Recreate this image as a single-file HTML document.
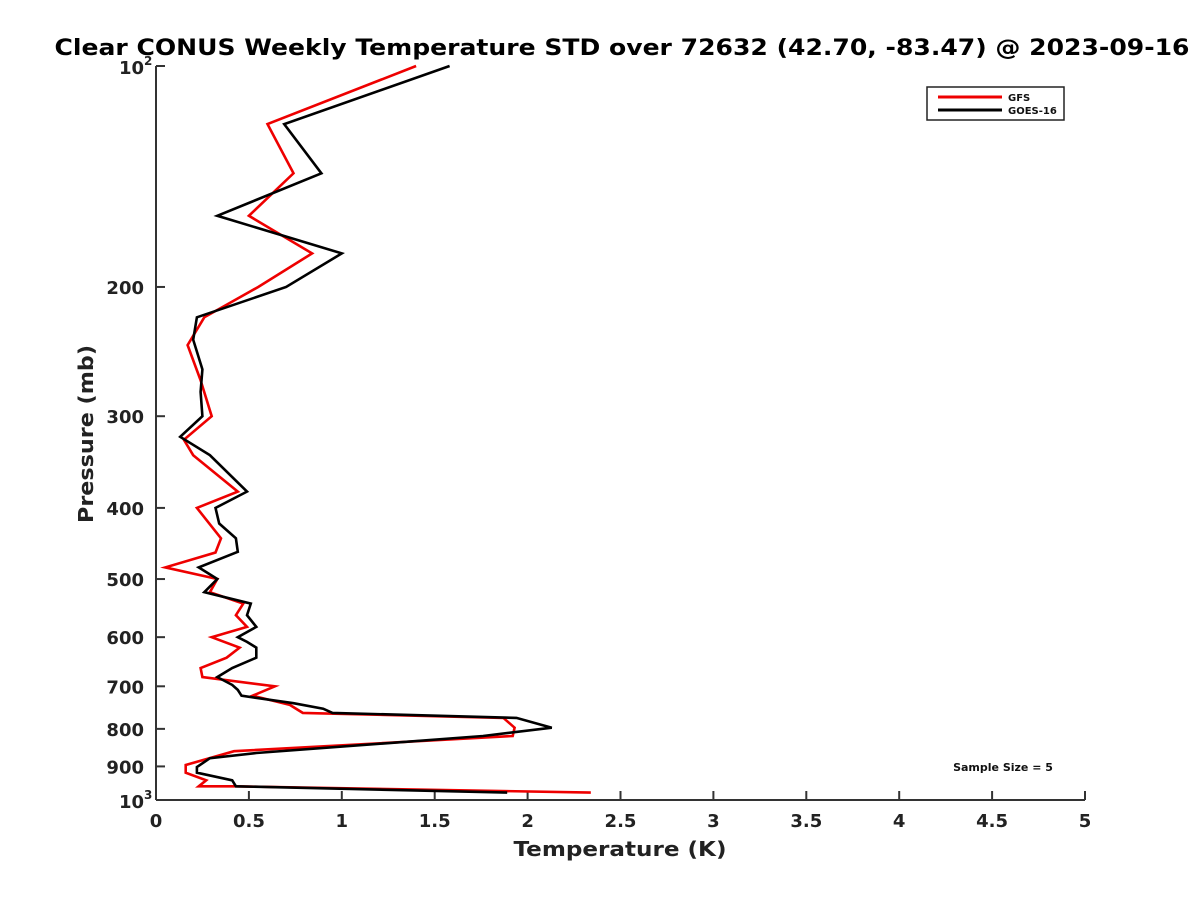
<!DOCTYPE html>
<html><head><meta charset="utf-8"><style>
html,body{margin:0;padding:0;background:#fff;}
svg{display:block;font-family:"DejaVu Sans","Liberation Sans",sans-serif;}
</style></head><body>
<svg id="chart" width="1200" height="900">
<rect width="1200" height="900" fill="#fff"/>
<text x="622" y="55" text-anchor="middle" font-size="22" font-weight="bold" fill="#000" textLength="1135" lengthAdjust="spacingAndGlyphs">Clear CONUS Weekly Temperature STD over 72632 (42.70, -83.47) @ 2023-09-16</text>
<g id="axes"></g>
<g id="series"></g>
<text x="620" y="856" text-anchor="middle" font-size="20" font-weight="bold" fill="#222" textLength="213" lengthAdjust="spacingAndGlyphs">Temperature (K)</text>
<text transform="translate(93,434) rotate(-90)" text-anchor="middle" font-size="20" font-weight="bold" fill="#222" textLength="178" lengthAdjust="spacingAndGlyphs">Pressure (mb)</text>
<g>
<rect x="927" y="87" width="137" height="33" fill="#fff" stroke="#222" stroke-width="1.5"/>
<line x1="938" y1="97" x2="1002" y2="97" stroke="#e00" stroke-width="3"/>
<text x="1008" y="101" font-size="10" font-weight="bold" fill="#111">GFS</text>
<line x1="938" y1="110" x2="1002" y2="110" stroke="#000" stroke-width="3"/>
<text x="1008" y="114" font-size="10" font-weight="bold" fill="#111">GOES-16</text>
</g>
<text x="1003" y="771" text-anchor="middle" font-size="11" font-weight="bold" fill="#111">Sample Size = 5</text>
</svg>
<script>
const xTicks = [0,0.5,1,1.5,2,2.5,3,3.5,4,4.5,5];
const xTickLabels = ["0","0.5","1","1.5","2","2.5","3","3.5","4","4.5","5"];
const yTicks = [200,300,400,500,600,700,800,900];
const gfsP = [100,120,140,160,180,200,220,240,268,300,323,339,380,400,440,460,482,500,521,540,560,581,600,620,640,661,680,700,721,742,761,773,797,818,858,896,918,940,958,958,977];
const gfsT = [1.40,0.60,0.74,0.50,0.84,0.55,0.26,0.17,0.24,0.30,0.15,0.20,0.44,0.22,0.35,0.32,0.05,0.33,0.29,0.47,0.43,0.49,0.30,0.45,0.38,0.24,0.25,0.64,0.52,0.72,0.79,1.87,1.93,1.92,0.42,0.16,0.16,0.27,0.23,0.43,2.34];
const goesP = [100,120,140,160,180,200,220,236,259,278,300,320,339,380,400,420,440,459,482,500,521,540,560,581,600,609,620,640,661,680,697,708,721,738,751,761,773,797,818,863,877,902,918,940,958,977];
const goesT = [1.58,0.69,0.89,0.33,1.00,0.70,0.22,0.20,0.25,0.24,0.25,0.13,0.29,0.49,0.32,0.34,0.43,0.44,0.23,0.33,0.26,0.51,0.49,0.54,0.44,0.49,0.54,0.54,0.41,0.33,0.41,0.44,0.46,0.74,0.90,0.95,1.94,2.13,1.76,0.54,0.29,0.22,0.22,0.41,0.43,1.89];

const X0=156, X1=1085, Y0=66, Y1=800;
const xs = t => X0 + (t/5)*(X1-X0);
const ys = p => Y0 + Math.log10(p/100)*(Y1-Y0);
const NS="http://www.w3.org/2000/svg";
const axes=document.getElementById('axes');
function mk(tag,attrs,parent){const e=document.createElementNS(NS,tag);for(const k in attrs)e.setAttribute(k,attrs[k]);parent.appendChild(e);return e;}
let l=mk('line',{x1:X0,y1:Y0,x2:X0,y2:Y1,stroke:'#333','stroke-width':2},axes);


l=mk('line',{x1:X0,y1:Y1,x2:X1,y2:Y1,stroke:'#333','stroke-width':2},axes);


xTicks.forEach((t,i)=>{
  const x=xs(t);
  const tk=mk('line',{x1:x,y1:Y1,x2:x,y2:Y1-9,stroke:'#333','stroke-width':2},axes);
  
  
  const tx=mk('text',{x:x,y:Y1+27,'text-anchor':'middle','font-size':18,'font-weight':'bold',fill:'#222'},axes);
  tx.textContent=xTickLabels[i];
  
  
});
[100,1000].concat(yTicks).forEach(p=>{
  const y=ys(p);
  const tk=mk('line',{x1:X0,y1:y,x2:X0+9,y2:y,stroke:'#333','stroke-width':2},axes);
  
  
});
yTicks.forEach(p=>{
  const tx=mk('text',{x:X0-12,y:ys(p)+7,'text-anchor':'end','font-size':18,'font-weight':'bold',fill:'#222'},axes);
  tx.textContent=String(p);
  
  
});
[[100,'2'],[1000,'3']].forEach(([p,e])=>{
  const tx=mk('text',{x:X0-12,y:ys(p)+8,'text-anchor':'end','font-size':18,'font-weight':'bold',fill:'#222'},axes);
  tx.textContent='10';
  
  
  const sp=mk('text',{x:X0-12,y:ys(p)-1,'text-anchor':'start','font-size':12,'font-weight':'bold',fill:'#222'},axes);
  sp.textContent=e;
  
  
});
const series=document.getElementById('series');
function drawLine(P,T,color,name){
  const pts=P.map((p,i)=>xs(T[i]).toFixed(1)+','+ys(p).toFixed(1)).join(' ');
  const pl=mk('polyline',{points:pts,fill:'none',stroke:color,'stroke-width':2.6,'stroke-linejoin':'miter'},series);
  
  
}
drawLine(gfsP,gfsT,'#e00','gfs-line');
drawLine(goesP,goesT,'#000','goes16-line');
</script>
</body></html>
